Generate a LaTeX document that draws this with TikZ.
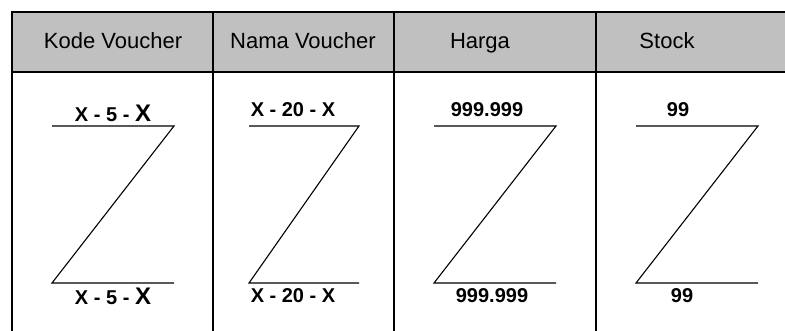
\documentclass[tikz,border=0pt]{standalone}
\usepackage{xcolor}
\usepackage{fontspec}
\setmainfont{Liberation Sans}
\usepackage{tikz}

\definecolor{headgray}{HTML}{C0C0C0}

\begin{document}
\begin{tikzpicture}[x=1pt, y=-1pt]
		\useasboundingbox (0, 0) rectangle (785, 331);

		% kepala tabel
		\fill[headgray] (12, 12) rectangle (785, 72);
		\draw[line width=1.2pt] (785, 12) -- (12, 12) -- (12, 331);
		\draw[line width=1.2pt] (12, 72) -- (785, 72);
		\draw[line width=1.2pt] (213, 12) -- (213, 331);
		\draw[line width=1.2pt] (394, 12) -- (394, 331);
		\draw[line width=1.2pt] (596, 12) -- (596, 331);

		\node[anchor=base, font=\fontsize{22}{22}\selectfont] (kode) at (113, 49) {Kode Voucher};
		\node[anchor=base, font=\fontsize{22}{22}\selectfont] (nama) at (303, 49) {Nama Voucher};
		\node[anchor=base, font=\fontsize{22}{22}\selectfont] (harga) at (480, 49) {Harga};
		\node[anchor=base, font=\fontsize{22}{22}\selectfont] (stock) at (667, 49) {Stock};

		% bentuk Z
		\draw[line width=1.1pt] (52, 126) -- (174, 126) -- (52, 283) -- (174, 283);
		\draw[line width=1.1pt] (249, 126) -- (359, 126) -- (249, 283) -- (359, 283);
		\draw[line width=1.1pt] (434, 126) -- (556, 126) -- (434, 283) -- (556, 283);
		\draw[line width=1.1pt] (636, 126) -- (758, 126) -- (636, 283) -- (758, 283);

		\node[anchor=base, font=\bfseries\fontsize{20}{20}\selectfont] (kodeatas) at (113, 122) {X - 5 - {\fontsize{24}{24}\selectfont X}};
		\node[anchor=base, font=\bfseries\fontsize{20}{20}\selectfont] (namaatas) at (293, 117) {X - 20 - X};
		\node[anchor=base, font=\bfseries\fontsize{20}{20}\selectfont] (hargaatas) at (487, 117) {999.999};
		\node[anchor=base, font=\bfseries\fontsize{20}{20}\selectfont] (stockatas) at (678, 117) {99};

		\node[anchor=base, font=\bfseries\fontsize{20}{20}\selectfont] (kodebawah) at (113, 305) {X - 5 - {\fontsize{24}{24}\selectfont X}};
		\node[anchor=base, font=\bfseries\fontsize{20}{20}\selectfont] (namabawah) at (293, 303) {X - 20 - X};
		\node[anchor=base, font=\bfseries\fontsize{20}{20}\selectfont] (hargabawah) at (492, 303) {999.999};
		\node[anchor=base, font=\bfseries\fontsize{20}{20}\selectfont] (stockbawah) at (682, 303) {99};
	\end{tikzpicture}
\end{document}
